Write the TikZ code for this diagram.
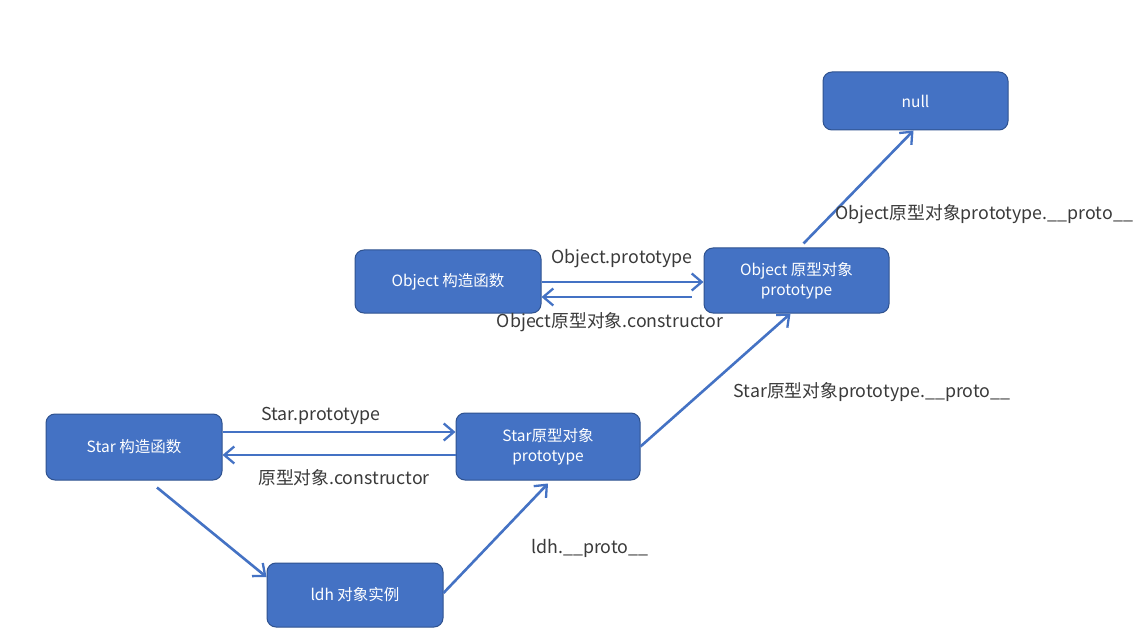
\documentclass[tikz,border=0pt]{standalone}
\usepackage{fontspec}
\setmainfont{Noto Sans CJK SC}
\usetikzlibrary{arrows.meta}
\definecolor{boxfill}{HTML}{4472C4}
\definecolor{boxline}{HTML}{2F528F}
\definecolor{arrowc}{HTML}{4472C4}
\definecolor{labelc}{HTML}{3A3A3A}
\tikzset{
  box/.style={draw=boxline, line width=1pt, fill=boxfill, rounded corners=9pt,
    text=white, font=\fontsize{15.5}{20}\selectfont, align=center, inner sep=0pt},
  link/.style={draw=arrowc, line width=2.6pt, -{Straight Barb[length=10pt,width=17pt,line width=2.3pt]}},
  lbl/.style={text=labelc, font=\fontsize{17.8}{21}\selectfont, inner sep=0pt}
}
\begin{document}
\begin{tikzpicture}[x=1pt,y=-1pt]
\useasboundingbox (0,0) rectangle (1133,631);
\fill[white] (0,0) rectangle (1133,631);
% boxes
\node[box, minimum width=185pt, minimum height=58pt] (nul) at (915.5,101) {null};
\node[box, minimum width=186pt, minimum height=63pt] (oc) at (448,281.5) {Object 构造函数};
\node[box, minimum width=185pt, minimum height=65pt] (op) at (796.5,280.5) {Object 原型对象\\prototype};
\node[box, minimum width=176pt, minimum height=66pt] (sc) at (134,447) {Star 构造函数};
\node[box, minimum width=184pt, minimum height=67pt] (sp) at (548,446.5) {Star原型对象\\prototype};
\node[box, minimum width=176pt, minimum height=64pt] (ldh) at (355,595) {ldh 对象实例};
% connectors
\draw[link] ([yshift=15pt]sc.east) -- ([yshift=14.5pt]sp.west);
\draw[link] ([yshift=-8.5pt,xshift=0pt]sp.west) -- ([yshift=-8pt]sc.east);
\draw[link] ([yshift=-0.5pt]oc.east) -- ([yshift=-1.5pt]op.west);
\draw[link] ([yshift=-16.5pt,xshift=-12pt]op.west) -- ([yshift=-15.5pt]oc.east);
\draw[link] (sp.east) -- ([xshift=-6pt]op.south);
\draw[link] ([xshift=7pt,yshift=4pt]op.north) -- ([xshift=-2pt]nul.south);
\draw[link] ([xshift=23pt,yshift=-7pt]sc.south) -- ([yshift=18pt]ldh.west);
\draw[link] ([yshift=2pt]ldh.east) -- ([yshift=-3pt]sp.south);
% labels
\node[lbl] (l1) at (622,259) {Object.prototype};
\node[lbl] (l2) at (610,322) {Object原型对象.constructor};
\node[lbl] (l3) at (321,416) {Star.prototype};
\node[lbl] (l4) at (344,478) {原型对象.constructor};
\node[lbl] (l5) at (590,548) {ldh.\_\_proto\_\_};
\node[lbl] (l6) at (872,392) {Star原型对象prototype.\_\_proto\_\_};
\node[lbl] (l7) at (984,214) {Object原型对象prototype.\_\_proto\_\_};
\end{tikzpicture}
\end{document}
